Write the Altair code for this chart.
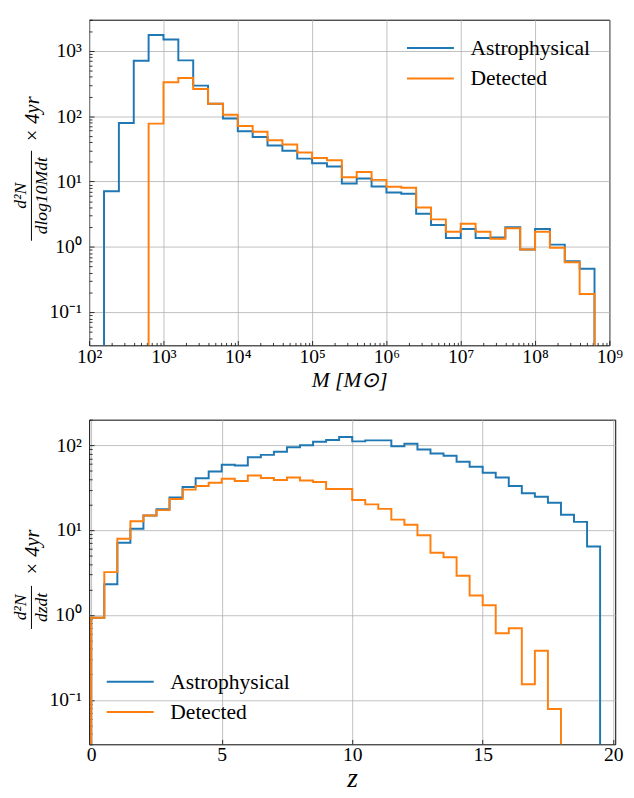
import altair as alt
import pandas as pd

# ---------------- data ----------------
MASS_EDGES_LOG10 = [2.2, 2.4, 2.6, 2.8, 3.0, 3.2, 3.4, 3.6, 3.8, 4.0, 4.2, 4.4,
                    4.6, 4.8, 5.0, 5.2, 5.4, 5.6, 5.8, 6.0, 6.2, 6.4, 6.6, 6.8,
                    7.0, 7.2, 7.4, 7.6, 7.8, 8.0, 8.2, 8.4, 8.6, 8.8]
MASS_ASTRO = [7.1, 78.5, 708, 1750, 1490, 716, 294, 155, 92, 59, 48, 35.5,
              29.5, 22.4, 19, 17, 9.3, 11.1, 8.4, 6.8, 6.5, 3.2, 2.16, 1.36,
              1.88, 1.36, 1.39, 2.0, 0.91, 1.88, 1.08, 0.6, 0.46]
MASS_DET = [0, 0, 0, 77, 331, 385, 260, 155, 105, 71, 58, 42.7,
            37, 27.9, 22.9, 21.1, 11.6, 14, 10.6, 8.3, 8.0, 4.0, 2.63, 1.70,
            2.26, 1.70, 1.33, 1.93, 0.91, 1.70, 0.97, 0.58, 0.19]

Z_EDGES = [0.0, 0.5, 1.0, 1.5, 2.0, 2.5, 3.0, 3.5, 4.0, 4.5, 5.0, 5.5, 6.0,
           6.5, 7.0, 7.5, 8.0, 8.5, 9.0, 9.5, 10.0, 10.5, 11.0, 11.5, 12.0,
           12.5, 13.0, 13.5, 14.0, 14.5, 15.0, 15.5, 16.0, 16.5, 17.0, 17.5,
           18.0, 18.5, 19.0, 19.5]
Z_ASTRO = [0.93, 2.3, 7.1, 10.4, 14.9, 17.6, 24.3, 32.2, 40.8, 49, 59, 57.8,
           72, 77, 83.8, 94.8, 100, 110, 115, 125, 111, 114, 114, 97, 104, 89,
           80, 75, 64, 55.7, 47.5, 41.6, 33.1, 27.2, 24.7, 21, 15.2, 12.5, 6.4]
Z_DET = [0.93, 3.2, 7.9, 12.7, 14.9, 17.2, 23.2, 30, 33, 36.1, 40.2, 37.8,
         43.9, 41, 39, 41.6, 38.4, 36.8, 30.5, 30.5, 22.6, 20.1, 17.8, 13.3,
         11.6, 8.7, 5.4, 4.8, 2.9, 1.70, 1.30, 0.61, 0.70, 0.153, 0.38, 0.078,
         0, 0, 0]

SERIES = ["Astrophysical", "Detected"]
MASS_X_TICKS = [1e2, 1e3, 1e4, 1e5, 1e6, 1e7, 1e8, 1e9]
MASS_Y_TICKS = [0.1, 1, 10, 100, 1000]
Z_X_TICKS = [0, 5, 10, 15, 20]
Z_Y_TICKS = [0.1, 1, 10, 100]

# ---------------- styling ----------------
BLUE = "#1f77b4"
ORANGE = "#ff7f0e"
FONT = "Liberation Serif"
GRID = "#b0b0b0"
FLOOR = 1e-4  # histogram drops to zero -> below the visible log range
SUP = {-1: "\u207b\u00b9", 0: "\u2070", 1: "\u00b9", 2: "\u00b2", 3: "\u00b3",
       4: "\u2074", 5: "\u2075", 6: "\u2076", 7: "\u2077", 8: "\u2078", 9: "\u2079"}


def step_frame(edges, values, log_x=False):
    nz = [i for i, v in enumerate(values) if v > 0]
    i0, i1 = nz[0], nz[-1]
    xs = [edges[i] for i in range(i0, i1 + 2)]
    if log_x:
        xs = [10 ** e for e in xs]
    ys = [values[i] for i in range(i0, i1 + 1)] + [values[i1]]
    px = [xs[0]] + xs + [xs[-1]]
    py = [FLOOR] + ys + [FLOOR]
    return pd.DataFrame({"x": px, "y": py, "order": list(range(len(px)))})


def pow_expr(exps):
    e = "round(log(datum.value)/LN10)"
    s = "''"
    for k in reversed(exps):
        s = f"({e} == {k} ? '10{SUP[k]}' : {s})"
    return s


def minor_vals(kmin, kmax, lo, hi):
    out = []
    for k in range(kmin, kmax + 1):
        for m in range(2, 10):
            v = m * 10.0 ** k
            if lo <= v <= hi:
                out.append(v)
    return out


def main_axis(orient, values, label_expr=None, title=None, **kw):
    args = dict(orient=orient, values=values, grid=True, ticks=False,
                domain=False, labelFont=FONT, titleFont=FONT,
                labelFontSize=20, labelFlush=False,
                labelOverlap=False, title=title)
    if label_expr:
        args["labelExpr"] = label_expr
    args.update(kw)
    return alt.Axis(**args)


def tick_axis(orient, values, size):
    return alt.Axis(orient=orient, values=values, grid=False, labels=False,
                    domain=False, ticks=True, tickSize=size, offset=-size,
                    tickColor="black", tickWidth=0.8, title=None)


def one():
    return alt.Data(values=[{"k": 0}])


def legend_layers(x0, y0, dy):
    out = []
    for i, (name, col) in enumerate(zip(SERIES, [BLUE, ORANGE])):
        y = y0 + i * dy
        out.append(alt.Chart(one()).mark_rule(color=col, strokeWidth=2).encode(
            x=alt.value(x0), x2=alt.value(x0 + 48), y=alt.value(y)))
        out.append(alt.Chart(one()).mark_text(
            align="left", baseline="middle", font=FONT, fontSize=22,
            color="black").encode(
            x=alt.value(x0 + 65), y=alt.value(y), text=alt.value(name)))
    return out


def ylabel_layers(num, den, yc, den_len, times_y):
    out = []
    out.append(alt.Chart(one()).mark_text(
        angle=270, align="center", baseline="middle", font=FONT, fontSize=18,
        fontStyle="italic", color="black").encode(
        x=alt.value(-70), y=alt.value(yc), text=alt.value(num)))
    out.append(alt.Chart(one()).mark_rule(color="black", strokeWidth=1).encode(
        x=alt.value(-59), y=alt.value(yc - den_len / 2), y2=alt.value(yc + den_len / 2)))
    out.append(alt.Chart(one()).mark_text(
        angle=270, align="center", baseline="middle", font=FONT, fontSize=18,
        fontStyle="italic", color="black").encode(
        x=alt.value(-48), y=alt.value(yc), text=alt.value(den)))
    out.append(alt.Chart(one()).mark_text(
        angle=270, align="center", baseline="middle", font=FONT, fontSize=21,
        fontStyle="italic", color="black").encode(
        x=alt.value(-57), y=alt.value(times_y), text=alt.value("\u00d7 4yr")))
    return out


# ---------------- top panel: mass ----------------
TW, TH = 532, 333
xs_m = alt.Scale(type="log", domain=[1e2, 1e9], nice=False)
ys_m = alt.Scale(type="log", domain=[0.031, 3000], nice=False)

m_blue = step_frame(MASS_EDGES_LOG10, MASS_ASTRO, log_x=True)
m_orange = step_frame(MASS_EDGES_LOG10, MASS_DET, log_x=True)

top_main = alt.Chart(m_blue).mark_line(
    interpolate="step-after", clip=True, color=BLUE, strokeWidth=2).encode(
    x=alt.X("x:Q", scale=xs_m,
            axis=main_axis("bottom", MASS_X_TICKS, pow_expr(range(2, 10)),
                           title="M [M\u2299]", labelPadding=2,
                           titleFontSize=22, titleFontStyle="italic",
                           titlePadding=3)),
    y=alt.Y("y:Q", scale=ys_m,
            axis=main_axis("left", MASS_Y_TICKS, pow_expr(range(-1, 4)),
                           labelPadding=8)),
    order="order:Q")

top_det = alt.Chart(m_orange).mark_line(
    interpolate="step-after", clip=True, color=ORANGE, strokeWidth=2).encode(
    x=alt.X("x:Q", scale=xs_m, axis=tick_axis("bottom", MASS_X_TICKS, 5)),
    y=alt.Y("y:Q", scale=ys_m, axis=tick_axis("left", MASS_Y_TICKS, 5)),
    order="order:Q")

top_minor = alt.Chart(m_blue).mark_line(opacity=0, clip=True).encode(
    x=alt.X("x:Q", scale=xs_m,
            axis=tick_axis("bottom", minor_vals(2, 8, 1e2, 1e9), 3)),
    y=alt.Y("y:Q", scale=ys_m,
            axis=tick_axis("left", minor_vals(-2, 3, 0.031, 3000), 3)))

top = alt.layer(
    top_main, top_det, top_minor,
    *legend_layers(325, 29, 31),
    *ylabel_layers("d\u00b2N", "dlog10Mdt", 180, 92, 102),
).resolve_axis(x="independent", y="independent").properties(width=TW, height=TH)

# ---------------- bottom panel: redshift ----------------
BW, BH = 538, 332
xs_z = alt.Scale(type="linear", domain=[-0.08, 20.08], nice=False, zero=False)
ys_z = alt.Scale(type="log", domain=[0.03, 200], nice=False)

z_blue = step_frame(Z_EDGES, Z_ASTRO)
z_orange = step_frame(Z_EDGES, Z_DET)

bot_main = alt.Chart(z_blue).mark_line(
    interpolate="step-after", clip=True, color=BLUE, strokeWidth=2).encode(
    x=alt.X("x:Q", scale=xs_z,
            axis=main_axis("bottom", Z_X_TICKS, title="z", labelPadding=1,
                           titleFontSize=28, titleFontStyle="italic",
                           titlePadding=0)),
    y=alt.Y("y:Q", scale=ys_z,
            axis=main_axis("left", Z_Y_TICKS, pow_expr(range(-1, 3)),
                           labelPadding=8)),
    order="order:Q")

bot_det = alt.Chart(z_orange).mark_line(
    interpolate="step-after", clip=True, color=ORANGE, strokeWidth=2).encode(
    x=alt.X("x:Q", scale=xs_z, axis=tick_axis("bottom", Z_X_TICKS, 5)),
    y=alt.Y("y:Q", scale=ys_z, axis=tick_axis("left", Z_Y_TICKS, 5)),
    order="order:Q")

bot_minor = alt.Chart(z_blue).mark_line(opacity=0, clip=True).encode(
    x=alt.X("x:Q", scale=xs_z, axis=None),
    y=alt.Y("y:Q", scale=ys_z,
            axis=tick_axis("left", minor_vals(-2, 2, 0.03, 200), 3)))

bot = alt.layer(
    bot_main, bot_det, bot_minor,
    *legend_layers(18, 268, 31),
    *ylabel_layers("d\u00b2N", "dzdt", 192, 44, 136),
).resolve_axis(x="independent", y="independent").properties(width=BW, height=BH)

chart = alt.vconcat(top, bot, spacing=76, bounds="flush").properties(
    padding={"left": 3, "top": 2, "right": 2, "bottom": 0}
).configure(font=FONT).configure_view(stroke="black", strokeWidth=1).configure_axis(
    labelFont=FONT, titleFont=FONT, labelColor="black", titleColor="black",
    titleFontWeight="normal", gridColor=GRID, gridWidth=0.8, gridOpacity=1,
)

chart.save("out.html", embed_options={"renderer": "svg", "actions": False})
